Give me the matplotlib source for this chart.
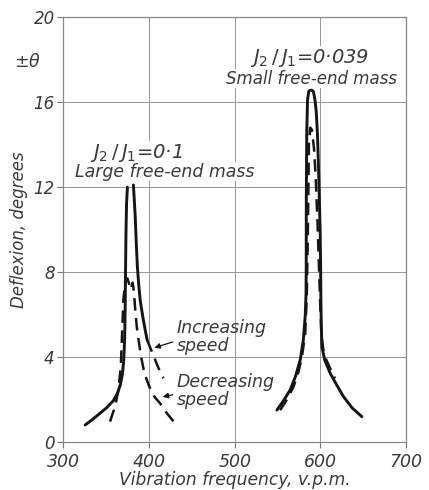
import matplotlib
matplotlib.use("Agg")
import matplotlib.pyplot as plt

plt.rcParams['font.family'] = ['DejaVu Sans']
plt.rcParams['mathtext.fontset'] = 'dejavusans'

# J2/J1 = 0.1 (large free-end mass)
large_up_f = [325.7, 334, 343, 351, 358.7, 363.5, 366.8, 369.2, 370.8, 371.8, 372.4, 372.8, 373.3, 374.0, 375.0]
large_up_d = [0.8, 1.05, 1.35, 1.62, 1.95, 2.3, 2.7, 3.2, 3.9, 4.9, 6.3, 8.0, 9.8, 11.2, 12.0]
large_down_f = [382.0, 383.0, 384.0, 385.3, 386.6, 388.2, 389.8, 391.7, 393.6, 395.6, 398.0]
large_down_d = [12.1, 11.4, 10.7, 9.4, 8.25, 7.4, 6.7, 6.2, 5.74, 5.3, 4.8]
large_inc_f = [398.0, 402, 406, 411, 417.0]
large_inc_d = [4.8, 4.4, 4.0, 3.5, 3.0]
large_dec_left_f = [354.8, 357.5, 360.6, 364.5, 367.3, 368.8, 370.3, 372.3, 375.0, 377.3]
large_dec_left_d = [0.96, 1.3, 1.66, 2.45, 3.55, 5.1, 6.68, 7.54, 7.7, 7.4]
large_dec_right_f = [379.5, 381.0, 382.5, 384.0, 385.9, 388.0, 391.0, 394.0, 397.6, 402.0, 407.0, 413.1, 421.0, 430.6]
large_dec_right_d = [7.3, 7.5, 7.1, 6.3, 5.43, 4.8, 4.0, 3.4, 2.92, 2.45, 2.1, 1.82, 1.35, 0.88]

# J2/J1 = 0.039 (small free-end mass)
small_solid_f = [549.2, 557, 564.7, 571, 576.4, 580.0, 582.2, 583.2, 583.4, 583.5, 584.0, 584.9, 586.3, 588.0, 590.0,
                 591.9, 593.6, 595.0, 596.5, 597.7, 598.8, 599.7, 600.2, 600.5, 601.0, 601.7, 605.0, 611.4,
                 618.0, 626.9, 637.0, 648.3]
small_solid_d = [1.5, 1.95, 2.45, 3.1, 3.86, 4.8, 5.9, 7.0, 8.25, 11.4, 14.5, 16.1, 16.5, 16.56, 16.56,
                 16.48, 16.1, 15.6, 14.5, 12.96, 11.3, 9.8, 8.2, 6.68, 5.4, 4.48, 3.85, 3.23,
                 2.75, 2.13, 1.6, 1.19]
small_dash_f = [553.0, 561, 568.6, 574, 578.4, 582.2, 584.0, 585.0, 585.8, 586.5, 588.0, 590.0, 592.5, 594.5,
                596.5, 598.3, 599.8, 601.2, 603.5, 607.0, 612.0, 617.0]
small_dash_d = [1.5, 2.0, 2.6, 3.25, 4.0, 5.1, 6.8, 9.0, 11.5, 14.0, 14.8, 14.7, 13.8, 12.4,
                10.4, 8.2, 6.4, 5.0, 4.3, 3.85, 3.4, 3.0]

fig = plt.figure(figsize=(4.29, 4.90), dpi=100)
ax = fig.add_axes([0.147, 0.098, 0.8, 0.867])

ink = '#151515'
text_col = '#3a3a3a'
solid_kw = dict(color=ink, lw=2.1, solid_capstyle='round')
dash_kw = dict(color=ink, lw=1.8, dashes=(5, 3))

ax.plot(large_up_f, large_up_d, **solid_kw)
ax.plot(large_down_f, large_down_d, **solid_kw)
ax.plot(large_inc_f, large_inc_d, **dash_kw)
ax.plot(large_dec_left_f, large_dec_left_d, **dash_kw)
ax.plot(large_dec_right_f, large_dec_right_d, **dash_kw)
ax.plot(small_solid_f, small_solid_d, **solid_kw)
ax.plot(small_dash_f, small_dash_d, **dash_kw)

ax.set_xlim(300, 700)
ax.set_ylim(0, 20)
ax.set_xticks([300, 400, 500, 600, 700])
ax.set_yticks([0, 4, 8, 12, 16, 20])
ax.set_yticklabels(['0', '4', '8', '12', '16', '20'], fontstyle='italic', fontsize=12, color=text_col)
ax.set_xticklabels(['300', '400', '500', '600', '700'], fontstyle='italic', fontsize=12.5, color=text_col)
ax.tick_params(direction='out', length=4, width=0.8, color='#777777')
ax.tick_params(axis='y', pad=2)
ax.tick_params(axis='x', pad=4)
ax.grid(True, color='#969696', lw=0.7, zorder=0)
ax.set_axisbelow(True)
for side in ['left', 'bottom', 'top', 'right']:
    ax.spines[side].set_color('#888888')
    ax.spines[side].set_linewidth(0.9)

ax.set_xlabel('Vibration frequency, v.p.m.', fontstyle='italic', fontsize=12.3, color=text_col, labelpad=0)
ax.set_ylabel('Deflexion, degrees', fontstyle='italic', fontsize=12, color=text_col, labelpad=4)
fig.text(0.065, 0.873, r'$\pm\theta$', fontsize=12.5, color=text_col, ha='center', va='center')

txt_kw = dict(fontstyle='italic', color=text_col, ha='center', va='center',
              bbox=dict(facecolor='white', edgecolor='none', pad=0.5))
ax.text(587, 18.1, r'$J_2\,/\,J_1$=0·039', fontsize=14, **txt_kw)
ax.text(590, 17.1, 'Small free-end mass', fontsize=12, **txt_kw)
ax.text(385, 13.6, r'$J_2\,/\,J_1$=0·1', fontsize=14, **txt_kw)
ax.text(418, 12.72, 'Large free-end mass', fontsize=12.5, **txt_kw)

lab_kw = dict(fontstyle='italic', color=text_col, ha='left', va='center', fontsize=12.5, linespacing=1.0)
ax.text(432, 4.95, 'Increasing\nspeed', **lab_kw)
ax.text(432, 2.42, 'Decreasing\nspeed', **lab_kw)
arrow = dict(arrowstyle='-|>', color=ink, lw=0.9, mutation_scale=8)
ax.annotate('', xy=(403.4, 4.4), xytext=(431, 4.75), arrowprops=arrow)
ax.annotate('', xy=(413, 2.1), xytext=(431, 2.25), arrowprops=arrow)

fig.savefig('out.png', dpi=100, facecolor='white')
